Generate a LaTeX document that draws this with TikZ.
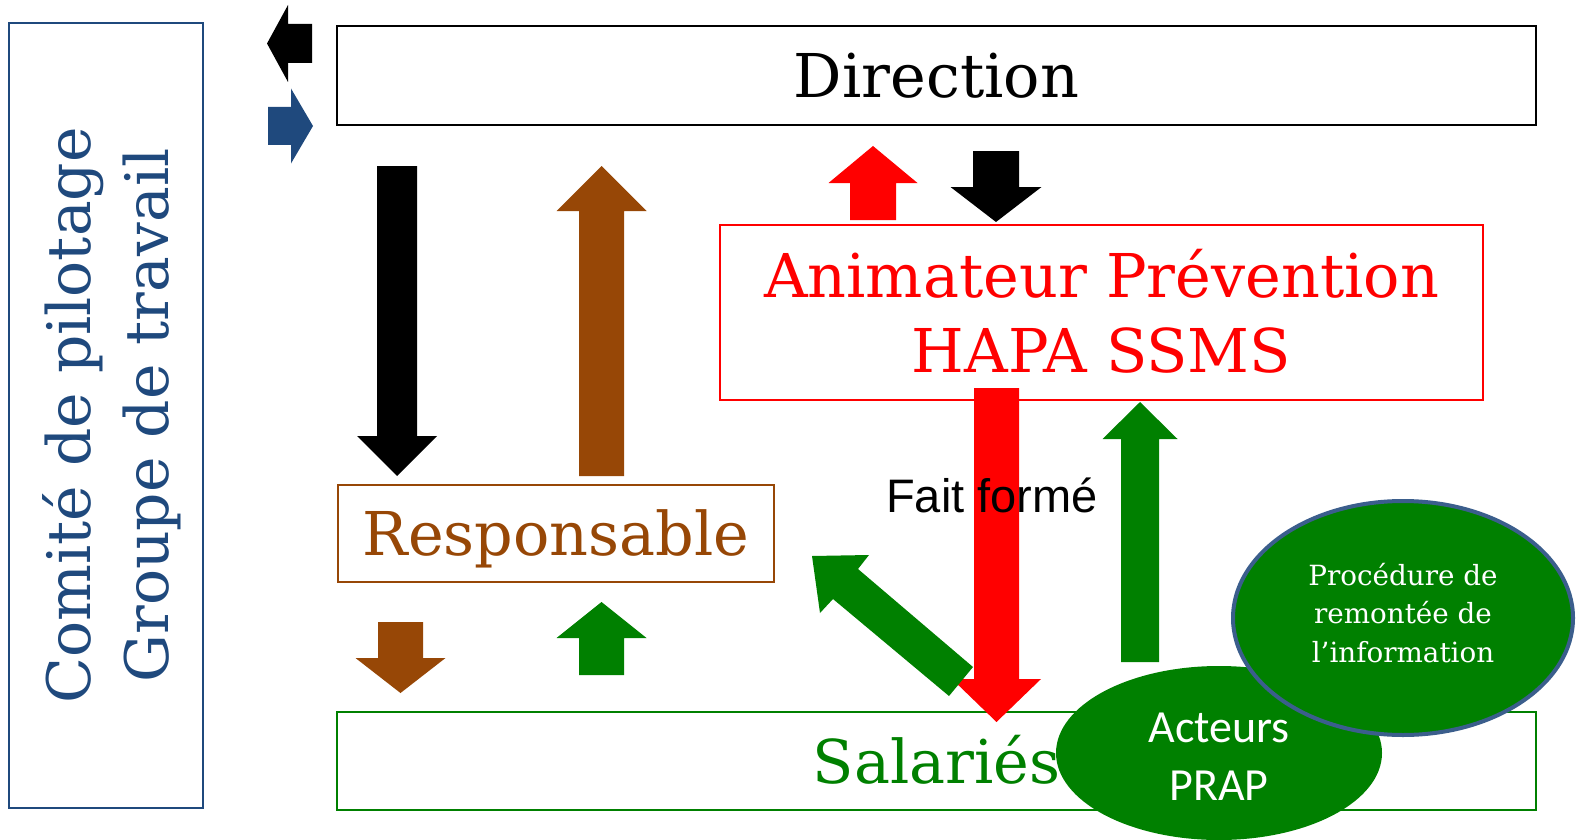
\documentclass[tikz,border=0pt]{standalone}
\usepackage{fontspec}
\setmainfont{DejaVu Serif}
\newfontfamily\arialf{Liberation Sans}
\newfontfamily\calf{Carlito}
\usetikzlibrary{shapes.geometric}
\definecolor{dirblue}{RGB}{31,73,125}
\definecolor{brownc}{RGB}{151,71,6}
\definecolor{greenc}{RGB}{0,128,0}
\definecolor{redc}{RGB}{255,0,0}
\definecolor{ellborder}{RGB}{59,94,140}
\newcommand\vblock[7]{\fill[#1] (#2-#3,#5) -- (#2-#3,#6) -- (#2-#4,#6) -- (#2,#7) -- (#2+#4,#6) -- (#2+#3,#6) -- (#2+#3,#5) -- cycle;}
\newcommand\hblock[7]{\fill[#1] (#5,#2-#3) -- (#6,#2-#3) -- (#6,#2-#4) -- (#7,#2) -- (#6,#2+#4) -- (#6,#2+#3) -- (#5,#2+#3) -- cycle;}
\begin{document}
\begin{tikzpicture}[x=1pt,y=-1pt,
  box/.style={rectangle, draw, line width=2pt, inner sep=0pt, outer sep=0pt,
    font=\fontsize{60.4}{75}\selectfont, text height=44pt, text depth=0pt},
  bubble/.style={ellipse, fill=greenc, inner sep=0pt, text=white, align=center}]
\useasboundingbox (0,0) rectangle (1579,840);
% boxes
\node[box, line width=2.2pt, minimum width=1199pt, minimum height=99pt] (dir) at (936.5,75.5) {Direction};
\node[box, draw=redc, text=redc, minimum width=763pt, minimum height=175pt, align=center,
  text height=119pt, text depth=0pt] (anim) at (1101.5,312.5) {Animateur Prévention\\HAPA SSMS};
\node[box, draw=brownc, text=brownc, minimum width=436pt, minimum height=97pt] (resp) at (556,533.5) {Responsable};
\node[box, draw=greenc, text=greenc, minimum width=1199pt, minimum height=98pt] (sal) at (936.5,761) {Salariés};
\node[box, draw=dirblue, text=dirblue, rotate=90, align=center, minimum width=785pt, minimum height=194pt,
  font=\fontsize{60}{78}\selectfont, text height=124pt, text depth=0pt] (comite) at (106,415.5)
  {Comité de pilotage\\Groupe de travail};
% block arrows
\hblock{black}{43.5}{19.5}{38.5}{312}{288}{267}
\hblock{dirblue}{126}{19}{37.5}{268}{291}{313}
\vblock{black}{397}{20}{40}{166}{436}{476}
\vblock{brownc}{601.5}{22.5}{45}{476}{211}{166}
\vblock{redc}{873}{23}{44.5}{220}{183}{146}
\vblock{black}{996}{23}{45.5}{151}{187}{222}
\vblock{brownc}{400.5}{22.5}{45}{622}{658}{693}
\vblock{greenc}{601.5}{22.5}{45}{675}{638}{602}
\vblock{redc}{996.5}{22.5}{44.5}{388}{679}{722}
\vblock{greenc}{1140}{19}{37.5}{662}{439}{402}
\fill[greenc] (812,556) -- (869,555) -- (858,569) -- (973,667) -- (949,696) -- (833,599) -- (820,613) -- cycle;
% label
\node[anchor=base, inner sep=0pt, font=\arialf\fontsize{47}{56}\selectfont] (fait) at (992,512) {Fait formé};
% bubbles
\node[bubble, minimum width=326pt, minimum height=174pt, font=\calf\fontsize{46}{58}\selectfont,
  text height=94pt, text depth=0pt] (acteurs) at (1219,753) {Acteurs\\PRAP};
\node[bubble, draw=ellborder, line width=4pt, minimum width=340pt, minimum height=234pt,
  font=\fontsize{27.8}{38.5}\selectfont, text height=88pt, text depth=0pt] (proc) at (1403,618)
  {Procédure de\\remontée de\\l’information};
\end{tikzpicture}
\end{document}
